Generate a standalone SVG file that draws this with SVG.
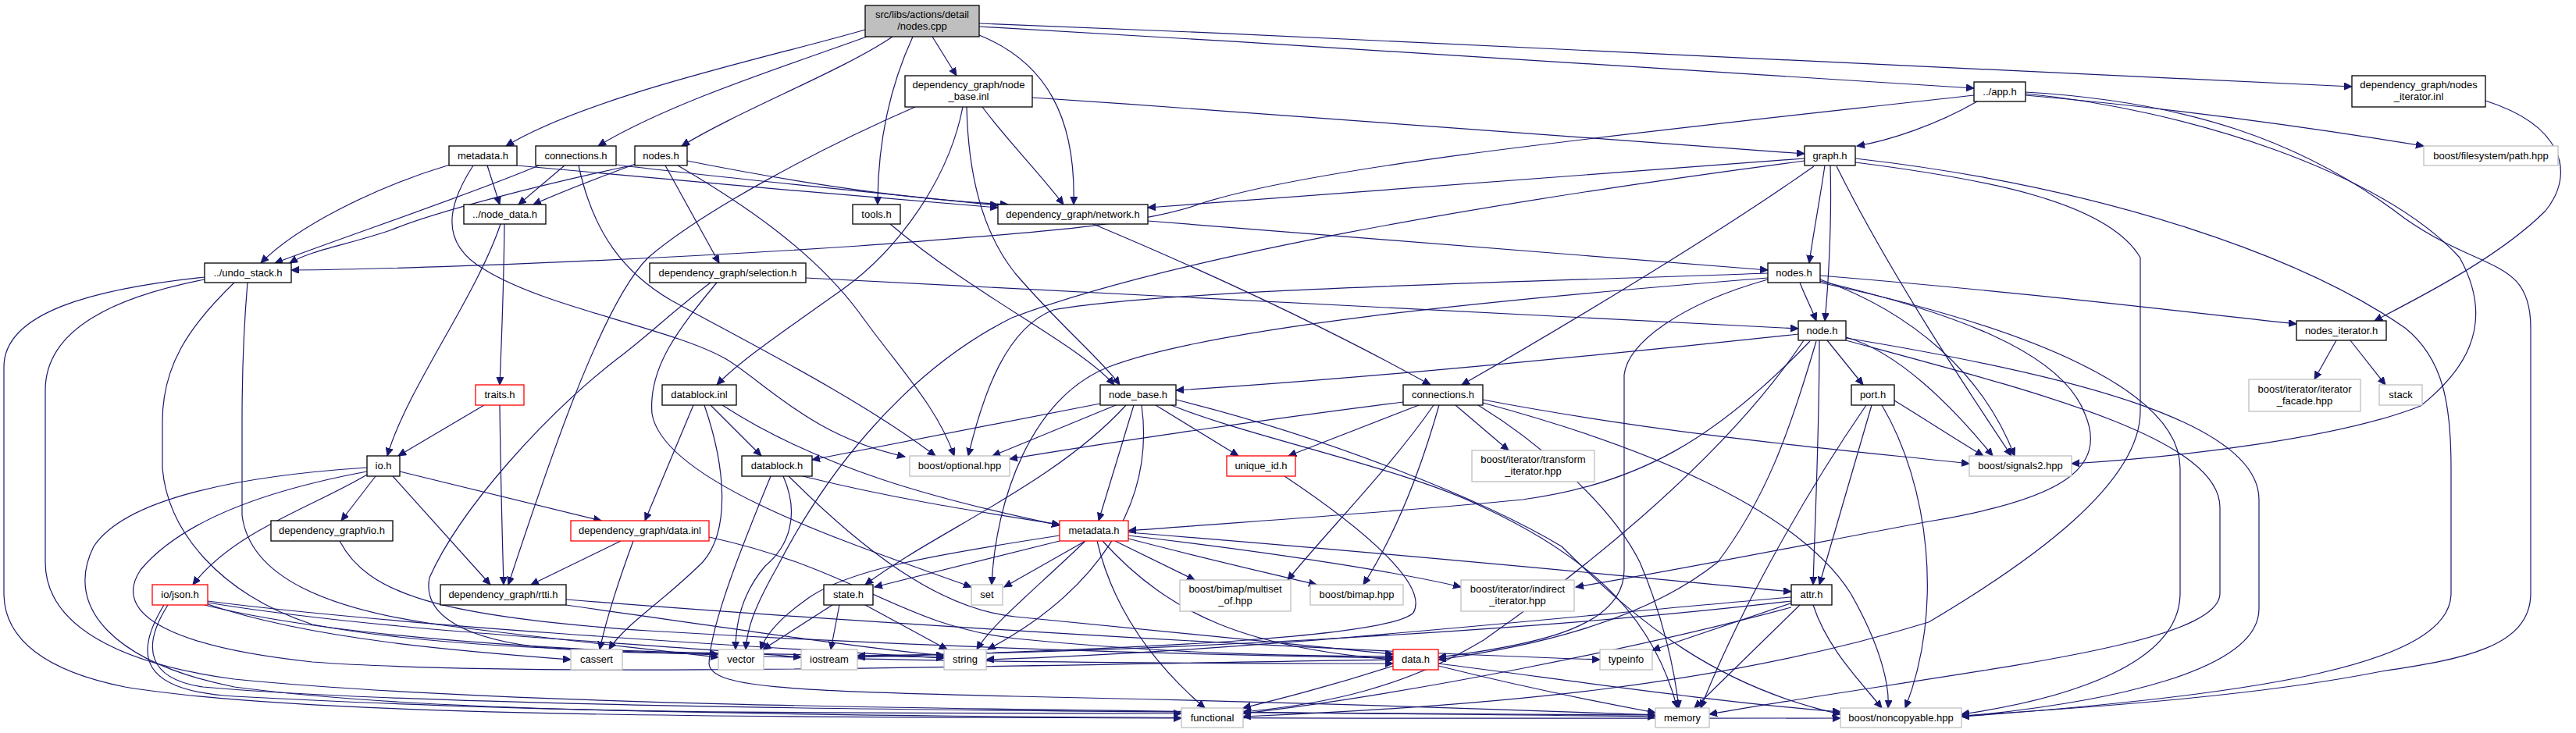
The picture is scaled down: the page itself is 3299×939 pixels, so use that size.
<svg xmlns="http://www.w3.org/2000/svg" width="3299" height="939" viewBox="0 0 3299 939">
<style>
rect{fill:#fff;stroke:#000;stroke-width:1.3}
.g rect{stroke:#bfbfbf}
.r rect{stroke:#ff0000}
.root rect{fill:#bfbfbf}
text{font-family:"Liberation Sans",Arial,sans-serif;font-size:13px;text-anchor:middle;fill:#000}
#edges path{fill:none;stroke:#191970;stroke-width:1.2;marker-end:url(#a)}
</style>
<defs>
<marker id="a" markerUnits="userSpaceOnUse" markerWidth="12" markerHeight="10" refX="10" refY="4.5" orient="auto" viewBox="0 0 12 10"><path d="M0,0 L10,4.5 L0,9 z" fill="#191970" stroke="#191970" stroke-width="1"/></marker>
</defs>
<rect x="0" y="0" width="3299" height="939" style="fill:#fff;stroke:none"/>
<g id="edges">
<path d="M1108,38 C1000,70 760,120 648,187"/>
<path d="M1110,47 C1020,80 860,130 766,187"/>
<path d="M1143,47 C1080,90 950,140 873,187"/>
<path d="M1169,47 C1140,110 1124,180 1124,262"/>
<path d="M1194,47 L1225,97"/>
<path d="M1254,45 C1340,80 1378,150 1375,262"/>
<path d="M1254,34 C1700,60 2200,90 2528,113"/>
<path d="M1254,30 C1900,55 2600,90 3012,111"/>
<path d="M624,212 L640,262"/>
<path d="M576,211 C480,240 380,290 334,337"/>
<path d="M662,212 C800,225 1100,252 1278,266"/>
<path d="M606,212 C575,260 560,310 620,345 C700,395 860,420 930,460 C980,490 1040,560 1159,585"/>
<path d="M690,212 C600,250 450,300 352,337"/>
<path d="M723,212 L664,262"/>
<path d="M789,211 C900,225 1150,250 1278,263"/>
<path d="M741,212 C760,300 800,350 860,385 C960,440 1100,510 1198,584"/>
<path d="M814,210 C760,230 720,245 683,262"/>
<path d="M813,211 C700,235 560,270 500,295 C440,315 400,320 371,337"/>
<path d="M880,206 C1000,230 1150,255 1291,262"/>
<path d="M868,212 C950,260 1040,320 1100,400 C1150,470 1200,520 1222,584"/>
<path d="M852,212 L921,337"/>
<path d="M646,287 C645,380 642,440 640,493"/>
<path d="M641,287 C610,380 520,500 496,584"/>
<path d="M262,355 C120,370 5,400 5,470 L5,760 C5,820 60,860 160,880 C400,920 1000,918 1513,920"/>
<path d="M262,358 C150,380 58,420 58,500 L58,720 C58,800 150,850 300,870 C700,910 1500,910 2120,918"/>
<path d="M300,362 C240,420 208,470 208,540 L208,600 C215,680 280,760 400,800 C600,838 900,835 1209,842"/>
<path d="M317,362 C312,420 310,470 310,540 L310,660 C320,740 420,780 560,800 C700,818 820,830 920,842"/>
<path d="M1322,125 C1700,150 2100,180 2311,197"/>
<path d="M1258,137 C1290,180 1330,220 1362,262"/>
<path d="M1238,137 C1240,230 1260,300 1300,350 C1360,420 1410,460 1434,493"/>
<path d="M1233,137 C1215,230 1150,320 1080,370 C1010,420 950,460 918,493"/>
<path d="M1172,137 C1050,190 900,270 830,330 C770,390 700,600 651,749"/>
<path d="M1140,287 C1250,380 1380,440 1427,493"/>
<path d="M1470,283 C1800,310 2100,335 2264,346"/>
<path d="M1400,287 C1550,350 1700,420 1832,493"/>
<path d="M1032,356 C1500,380 2000,405 2303,421"/>
<path d="M918,362 C870,420 830,470 835,530 C850,620 1100,700 1244,752"/>
<path d="M910,362 C860,400 830,430 790,460 C700,530 590,650 550,740 C540,790 600,820 700,830 C800,838 860,836 920,838"/>
<path d="M2311,203 C2000,225 1700,250 1470,266"/>
<path d="M2337,212 C2330,260 2322,300 2317,337"/>
<path d="M2344,212 C2346,280 2342,360 2337,411"/>
<path d="M2323,213 C2200,300 2000,420 1872,493"/>
<path d="M2352,213 C2420,350 2520,500 2576,584"/>
<path d="M2376,203 C2700,240 2950,330 3080,420 C3130,460 3139,520 3139,600 L3139,760 C3139,850 2900,890 2512,918"/>
<path d="M2376,208 C2550,230 2700,260 2741,330 L2741,527 C2741,620 2600,720 2470,797 C2200,880 1900,905 1592,918"/>
<path d="M2311,206 C1900,260 1500,330 1296,407 C1150,480 1050,620 995,727 C965,780 957,805 955,832"/>
<path d="M2305,362 C2312,380 2320,395 2326,411"/>
<path d="M2331,353 C2600,375 2800,400 2941,415"/>
<path d="M2264,350 C2000,360 1500,370 1349,397 C1290,420 1260,500 1240,584"/>
<path d="M2264,356 C1900,385 1550,420 1420,470 C1320,510 1275,640 1270,749"/>
<path d="M2264,358 C2150,390 2085,440 2080,480 L2080,730 C2080,800 1980,825 1842,842"/>
<path d="M2331,358 C2450,400 2540,480 2580,584"/>
<path d="M2331,360 C2500,400 2640,450 2670,530 C2700,600 2640,640 2470,668 C2300,700 2150,730 2018,752"/>
<path d="M2331,362 C2600,420 2792,500 2792,600 L2792,760 C2792,850 2650,895 2512,915"/>
<path d="M2303,428 C2100,450 1750,485 1506,500"/>
<path d="M2318,437 C2200,560 2100,620 1950,640 C1800,655 1600,668 1445,680"/>
<path d="M2340,436 L2386,493"/>
<path d="M2330,436 C2330,550 2325,650 2322,749"/>
<path d="M2326,437 C2290,560 2260,640 2200,720 C2100,800 1950,830 1842,845"/>
<path d="M2364,432 C2430,450 2500,520 2552,584"/>
<path d="M2364,433 C2650,480 2893,540 2893,640 L2893,780 C2893,860 2700,900 2512,918"/>
<path d="M2364,436 C2600,500 2843,560 2843,650 L2843,760 C2843,830 2500,860 2189,915"/>
<path d="M2310,436 C2200,600 2000,750 1900,820 C1800,880 1700,902 1592,912"/>
<path d="M2532,130 C2480,160 2420,180 2378,187"/>
<path d="M2528,122 C2100,170 1700,210 1540,260 C1460,290 1300,300 1100,315 C800,335 500,345 373,346"/>
<path d="M2594,122 C2800,140 3000,170 3104,187"/>
<path d="M2594,120 C2800,140 3050,220 3150,330 C3200,420 3150,480 3100,520 C3000,560 2800,585 2653,594"/>
<path d="M2594,118 C2800,130 2950,180 3080,280 C3180,350 3241,330 3241,420 L3241,760 C3241,830 3150,845 3050,860 C2900,890 2700,905 2512,917"/>
<path d="M3183,129 C3280,160 3300,220 3260,270 C3200,330 3100,380 3041,411"/>
<path d="M2992,436 L2964,486"/>
<path d="M3010,436 L3055,493"/>
<path d="M620,519 L510,584"/>
<path d="M640,519 C641,600 643,680 645,749"/>
<path d="M481,610 L437,667"/>
<path d="M470,608 C400,650 300,680 247,749"/>
<path d="M503,610 L628,749"/>
<path d="M512,604 L770,667"/>
<path d="M470,599 C300,610 160,640 120,700 C80,780 150,850 300,880 C600,920 1100,912 1513,914"/>
<path d="M470,604 C330,630 230,670 180,730 C140,790 230,830 400,848 C700,870 1400,850 1784,845"/>
<path d="M435,693 C470,760 560,790 830,808 C1200,830 1500,838 1784,843"/>
<path d="M795,693 L680,749"/>
<path d="M811,693 C790,750 775,800 768,832"/>
<path d="M908,688 C1100,730 1150,800 1300,818 C1500,838 1650,840 1784,841"/>
<path d="M266,774 C400,820 600,835 731,845"/>
<path d="M266,772 C500,810 800,822 1026,842"/>
<path d="M266,770 C500,800 900,825 1209,843"/>
<path d="M262,775 C500,835 1000,850 1784,850"/>
<path d="M215,775 C180,830 190,870 260,880 C600,910 1500,912 2120,916"/>
<path d="M210,775 C170,840 180,885 300,892 C900,925 1800,920 2357,920"/>
<path d="M725,768 C1000,790 1600,830 2049,845"/>
<path d="M725,775 C900,800 1100,830 1209,840"/>
<path d="M910,519 L975,584"/>
<path d="M888,519 L826,667"/>
<path d="M925,519 C1050,600 1200,640 1357,673"/>
<path d="M902,519 C930,600 935,680 900,720 C850,770 800,800 780,832"/>
<path d="M1409,517 L1040,589"/>
<path d="M1429,519 L1271,584"/>
<path d="M1442,519 C1350,620 1200,680 1108,749"/>
<path d="M1452,519 L1407,667"/>
<path d="M1462,519 C1480,650 1400,760 1265,832"/>
<path d="M1480,519 L1586,584"/>
<path d="M1500,519 C1600,560 1800,600 1900,650 C2050,720 2120,800 2148,907"/>
<path d="M1506,512 C1700,560 1900,640 2000,700 C2100,800 2200,880 2357,915"/>
<path d="M1003,610 C1025,660 1010,700 980,725 C950,760 942,800 942,832"/>
<path d="M1028,610 C1150,640 1250,655 1357,672"/>
<path d="M1010,610 C1100,700 1200,780 1300,790 C1500,810 1700,830 1784,838"/>
<path d="M987,610 C950,700 910,800 908,850 C910,880 1000,885 1300,892 C1700,900 1950,910 2120,916"/>
<path d="M1645,610 C1750,680 1830,750 1810,785 C1780,815 1500,830 1098,842"/>
<path d="M1357,693 L1120,752"/>
<path d="M1390,693 L1286,752"/>
<path d="M1428,693 L1530,743"/>
<path d="M1357,686 C1200,710 1080,730 1030,770 C995,795 980,815 974,832"/>
<path d="M1390,693 C1320,760 1270,800 1251,832"/>
<path d="M1405,693 C1430,800 1500,870 1543,907"/>
<path d="M1445,682 C1800,710 2100,740 2294,758"/>
<path d="M1445,686 C1650,710 1800,735 1871,752"/>
<path d="M1445,690 C1560,720 1650,740 1686,749"/>
<path d="M1412,693 C1500,790 1600,830 1784,845"/>
<path d="M1066,775 L977,832"/>
<path d="M1075,775 L1064,832"/>
<path d="M1108,775 L1213,832"/>
<path d="M1817,519 L1650,584"/>
<path d="M1797,515 C1600,540 1400,570 1293,588"/>
<path d="M1864,519 L1932,577"/>
<path d="M1843,519 C1820,600 1790,680 1746,749"/>
<path d="M1836,519 C1780,600 1700,680 1649,743"/>
<path d="M1899,516 C2100,570 2300,650 2370,760 C2410,830 2420,880 2418,907"/>
<path d="M1899,512 C2150,560 2400,580 2522,594"/>
<path d="M1893,519 C1960,560 2060,640 2100,720 C2130,790 2145,860 2150,907"/>
<path d="M2397,519 L2330,749"/>
<path d="M2410,519 C2470,620 2490,780 2440,907"/>
<path d="M2426,513 C2470,540 2500,560 2540,584"/>
<path d="M2390,519 C2300,650 2220,800 2178,907"/>
<path d="M2294,765 C2000,790 1600,835 1263,845"/>
<path d="M2294,770 C2000,805 1500,835 1098,840"/>
<path d="M2296,772 L2116,833"/>
<path d="M2305,775 L2170,907"/>
<path d="M2322,775 C2340,830 2380,870 2410,907"/>
<path d="M2294,778 C2100,830 1800,890 1592,914"/>
<path d="M1784,853 C1700,880 1640,895 1592,907"/>
<path d="M1842,853 C1950,880 2050,900 2120,913"/>
<path d="M1842,850 C2000,870 2200,900 2357,912"/>
</g>
<g id="n0" class="root"><rect x="1108" y="7" width="146" height="40"/><text x="1181" y="23">src/libs/actions/detail</text><text x="1181" y="38">/nodes.cpp</text></g>
<g id="n1"><rect x="575" y="187" width="87" height="25"/><text x="618.5" y="204">metadata.h</text></g>
<g id="n2"><rect x="686" y="187" width="103" height="25"/><text x="737.5" y="204">connections.h</text></g>
<g id="n3"><rect x="813" y="187" width="67" height="25"/><text x="846.5" y="204">nodes.h</text></g>
<g id="n4"><rect x="594" y="262" width="105" height="25"/><text x="646.5" y="279">../node_data.h</text></g>
<g id="n5"><rect x="262" y="337" width="111" height="25"/><text x="317.5" y="354">../undo_stack.h</text></g>
<g id="n6"><rect x="1159" y="97" width="163" height="40"/><text x="1240.5" y="113">dependency_graph/node</text><text x="1240.5" y="128">_base.inl</text></g>
<g id="n7"><rect x="1092" y="262" width="61" height="25"/><text x="1122.5" y="279">tools.h</text></g>
<g id="n8"><rect x="1278" y="262" width="192" height="25"/><text x="1374" y="279">dependency_graph/network.h</text></g>
<g id="n9"><rect x="832" y="337" width="200" height="25"/><text x="932" y="354">dependency_graph/selection.h</text></g>
<g id="n10"><rect x="2311" y="187" width="65" height="25"/><text x="2343.5" y="204">graph.h</text></g>
<g id="n11"><rect x="2264" y="337" width="67" height="25"/><text x="2297.5" y="354">nodes.h</text></g>
<g id="n12"><rect x="2303" y="411" width="61" height="25"/><text x="2333.5" y="428">node.h</text></g>
<g id="n13"><rect x="2528" y="105" width="66" height="25"/><text x="2561" y="122">../app.h</text></g>
<g id="n14"><rect x="3012" y="97" width="171" height="40"/><text x="3097.5" y="113">dependency_graph/nodes</text><text x="3097.5" y="128">_iterator.inl</text></g>
<g id="n15" class="g"><rect x="3104" y="187" width="172" height="25"/><text x="3190" y="204">boost/filesystem/path.hpp</text></g>
<g id="n16"><rect x="2941" y="411" width="115" height="25"/><text x="2998.5" y="428">nodes_iterator.h</text></g>
<g id="n17" class="r"><rect x="609" y="493" width="62" height="26"/><text x="640" y="510">traits.h</text></g>
<g id="n18"><rect x="470" y="584" width="42" height="26"/><text x="491" y="601">io.h</text></g>
<g id="n19"><rect x="347" y="667" width="156" height="26"/><text x="425" y="684">dependency_graph/io.h</text></g>
<g id="n20" class="r"><rect x="731" y="667" width="177" height="26"/><text x="819.5" y="684">dependency_graph/data.inl</text></g>
<g id="n21" class="r"><rect x="195" y="749" width="71" height="26"/><text x="230.5" y="766">io/json.h</text></g>
<g id="n22"><rect x="564" y="749" width="161" height="26"/><text x="644.5" y="766">dependency_graph/rtti.h</text></g>
<g id="n23" class="g"><rect x="731" y="832" width="66" height="26"/><text x="764" y="849">cassert</text></g>
<g id="n24"><rect x="848" y="493" width="95" height="26"/><text x="895.5" y="510">datablock.inl</text></g>
<g id="n25"><rect x="1409" y="493" width="97" height="26"/><text x="1457.5" y="510">node_base.h</text></g>
<g id="n26"><rect x="950" y="584" width="90" height="26"/><text x="995" y="601">datablock.h</text></g>
<g id="n27" class="g"><rect x="1165" y="584" width="128" height="26"/><text x="1229" y="601">boost/optional.hpp</text></g>
<g id="n28" class="r"><rect x="1571" y="584" width="88" height="26"/><text x="1615" y="601">unique_id.h</text></g>
<g id="n29" class="r"><rect x="1357" y="667" width="88" height="26"/><text x="1401" y="684">metadata.h</text></g>
<g id="n30"><rect x="1055" y="749" width="63" height="26"/><text x="1086.5" y="766">state.h</text></g>
<g id="n31" class="g"><rect x="1244" y="749" width="40" height="26"/><text x="1264" y="766">set</text></g>
<g id="n32" class="g"><rect x="1511" y="743" width="142" height="40"/><text x="1582" y="759">boost/bimap/multiset</text><text x="1582" y="774">_of.hpp</text></g>
<g id="n33" class="g"><rect x="920" y="832" width="58" height="26"/><text x="949" y="849">vector</text></g>
<g id="n34" class="g"><rect x="1026" y="832" width="72" height="26"/><text x="1062" y="849">iostream</text></g>
<g id="n35" class="g"><rect x="1209" y="832" width="54" height="26"/><text x="1236" y="849">string</text></g>
<g id="n36" class="g"><rect x="1513" y="907" width="79" height="25"/><text x="1552.5" y="924">functional</text></g>
<g id="n37"><rect x="1797" y="493" width="102" height="26"/><text x="1848" y="510">connections.h</text></g>
<g id="n38"><rect x="2371" y="493" width="55" height="26"/><text x="2398.5" y="510">port.h</text></g>
<g id="n39" class="g"><rect x="1885" y="577" width="157" height="40"/><text x="1963.5" y="593">boost/iterator/transform</text><text x="1963.5" y="608">_iterator.hpp</text></g>
<g id="n40" class="g"><rect x="1678" y="749" width="119" height="26"/><text x="1737.5" y="766">boost/bimap.hpp</text></g>
<g id="n41" class="g"><rect x="1871" y="743" width="145" height="40"/><text x="1943.5" y="759">boost/iterator/indirect</text><text x="1943.5" y="774">_iterator.hpp</text></g>
<g id="n42"><rect x="2294" y="749" width="52" height="26"/><text x="2320" y="766">attr.h</text></g>
<g id="n43" class="r"><rect x="1784" y="832" width="58" height="26"/><text x="1813" y="849">data.h</text></g>
<g id="n44" class="g"><rect x="2049" y="832" width="67" height="26"/><text x="2082.5" y="849">typeinfo</text></g>
<g id="n45" class="g"><rect x="2120" y="907" width="69" height="25"/><text x="2154.5" y="924">memory</text></g>
<g id="n46" class="g"><rect x="2357" y="907" width="155" height="25"/><text x="2434.5" y="924">boost/noncopyable.hpp</text></g>
<g id="n47" class="g"><rect x="2522" y="584" width="131" height="26"/><text x="2587.5" y="601">boost/signals2.hpp</text></g>
<g id="n48" class="g"><rect x="2880" y="486" width="143" height="41"/><text x="2951.5" y="503">boost/iterator/iterator</text><text x="2951.5" y="518">_facade.hpp</text></g>
<g id="n49" class="g"><rect x="3047" y="493" width="55" height="26"/><text x="3074.5" y="510">stack</text></g>
</svg>
